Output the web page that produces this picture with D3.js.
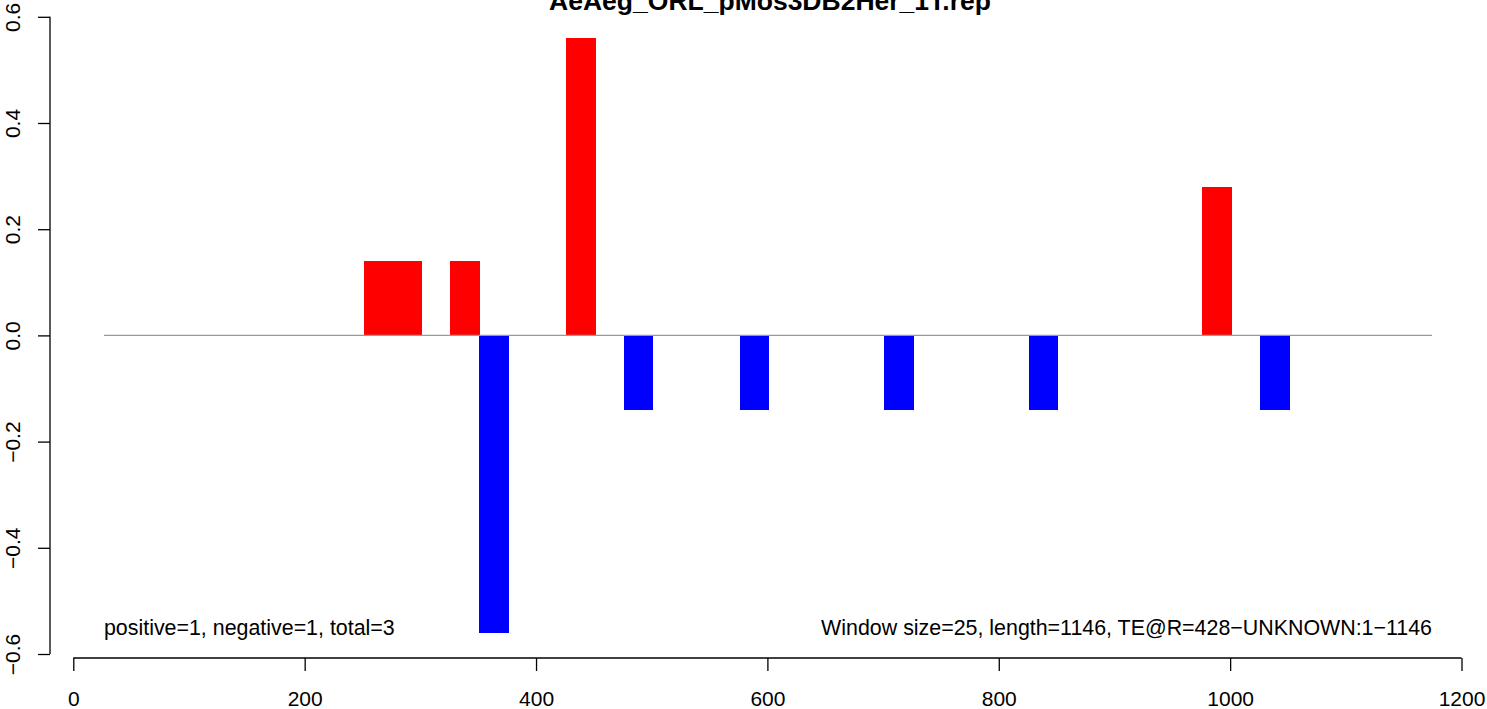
<!DOCTYPE html>
<html>
<head>
<meta charset="utf-8">
<script src="https://cdn.jsdelivr.net/npm/d3@7"></script>
<style>
  html, body { margin: 0; padding: 0; background: #fff; }
  svg { display: block; }
  text { font-family: "Liberation Sans", Arial, sans-serif; fill: #000; }
</style>
</head>
<body>
<svg id="chart" width="1487" height="709"></svg>
<script>
// ---- data ----
const title = "AeAeg_ORL_pMos3DB2Her_1T.rep";
const windowSize = 25;
const binStarts = [251, 276, 326, 351, 426, 476, 576, 701, 826, 976, 1026];
const binValues = [0.14, 0.14, 0.14, -0.56, 0.56, -0.14, -0.14, -0.14, -0.14, 0.28, -0.14];
const xTicks = [0, 200, 400, 600, 800, 1000, 1200];
const yTicks = [-0.6, -0.4, -0.2, 0.0, 0.2, 0.4, 0.6];
const baselineRange = [26.5, 1174.5];
const leftNote = "positive=1, negative=1, total=3";
const rightNote = "Window size=25, length=1146, TE@R=428\u2212UNKNOWN:1\u22121146";

// ---- layout ----
const svg = d3.select("#chart");
const x = d3.scaleLinear().domain([0, 1200]).range([73.3, 1461.5]);
const y = d3.scaleLinear().domain([-0.6, 0.6]).range([654, 16.8]);
const fmtY = d => d3.format(".1f")(d).replace("-", "\u2212");

// bars
svg.append("g").attr("shape-rendering", "crispEdges").selectAll("rect")
  .data(binStarts.map((s, i) => ({ s, v: binValues[i] })))
  .join("rect")
  .attr("x", d => x(d.s))
  .attr("width", d => x(d.s + windowSize) - x(d.s) + 0.5)
  .attr("y", d => y(Math.max(0, d.v)))
  .attr("height", d => Math.abs(y(d.v) - y(0)))
  .attr("fill", d => d.v >= 0 ? "#ff0000" : "#0000ff");

// zero line
svg.append("line")
  .attr("x1", x(baselineRange[0])).attr("x2", x(baselineRange[1]))
  .attr("y1", y(0)).attr("y2", y(0))
  .attr("stroke", "#999").attr("stroke-width", 1.3);

// x axis
const xAxis = svg.append("g")
  .attr("transform", "translate(0,658)")
  .call(d3.axisBottom(x).tickValues(xTicks).tickSize(13).tickPadding(20).tickFormat(d3.format("d")));
xAxis.select(".domain").attr("d", `M${x(0)},0H${x(1200)}`).attr("stroke", "#000").attr("stroke-width", 1.3);
xAxis.selectAll(".tick line").attr("stroke", "#000").attr("stroke-width", 1.3);
xAxis.selectAll("text").attr("font-size", 21).attr("font-family", "Liberation Sans, Arial, sans-serif").attr("fill", "#000");

// y axis
const yAxis = svg.append("g")
  .attr("transform", "translate(50,0)")
  .call(d3.axisLeft(y).tickValues(yTicks).tickSize(12).tickFormat(fmtY));
yAxis.select(".domain").attr("d", `M0,${y(-0.6)}V${y(0.6)}`).attr("stroke", "#000").attr("stroke-width", 1.3);
yAxis.selectAll(".tick line").attr("stroke", "#000").attr("stroke-width", 1.3);
yAxis.selectAll(".tick text")
  .attr("x", null).attr("dy", null)
  .attr("font-size", 21).attr("font-family", "Liberation Sans, Arial, sans-serif").attr("fill", "#000")
  .attr("text-anchor", "middle")
  .attr("transform", "translate(-30,0) rotate(-90)");

// title
svg.append("text")
  .attr("x", 770).attr("y", 10)
  .attr("text-anchor", "middle")
  .attr("font-size", 26.5).attr("font-weight", "bold")
  .text(title);

// notes
svg.append("text")
  .attr("x", x(baselineRange[0])).attr("y", 635)
  .attr("font-size", 21.4)
  .text(leftNote);
svg.append("text")
  .attr("x", x(baselineRange[1])).attr("y", 635)
  .attr("text-anchor", "end")
  .attr("font-size", 21.4)
  .text(rightNote);
</script>
</body>
</html>
